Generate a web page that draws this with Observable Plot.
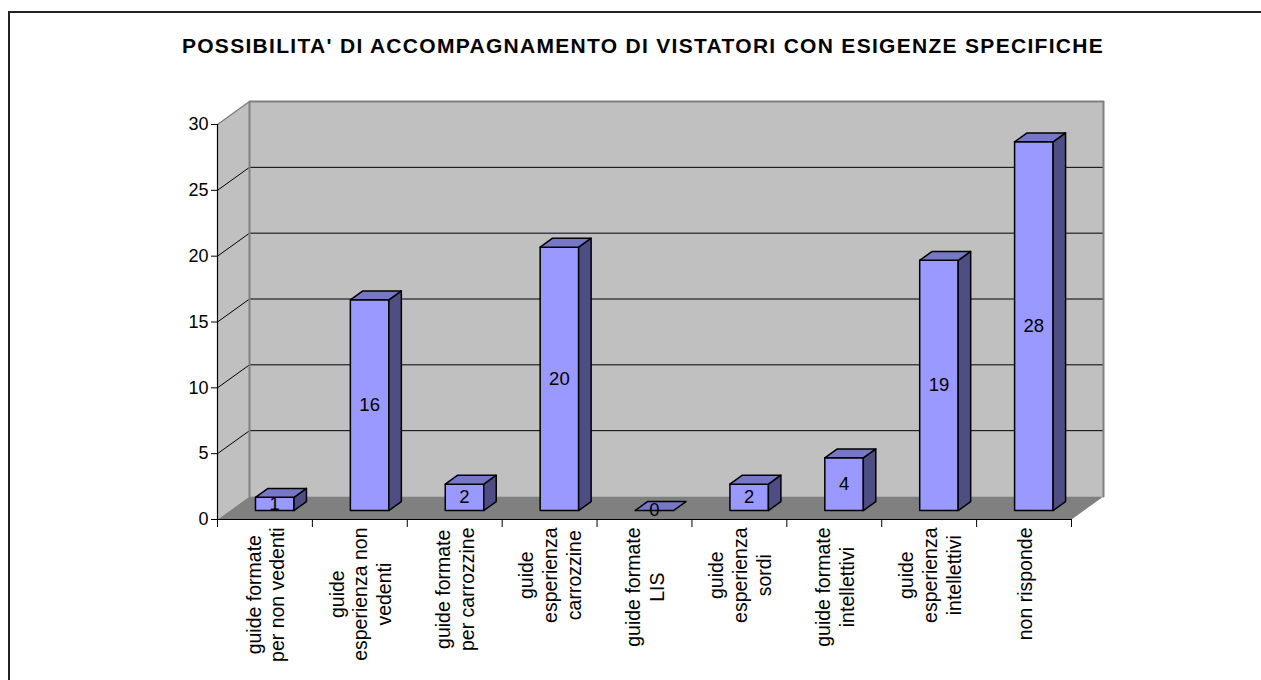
<!DOCTYPE html>
<html>
<head>
<meta charset="utf-8">
<script src="https://cdn.jsdelivr.net/npm/d3@7"></script>
<script src="https://cdn.jsdelivr.net/npm/@observablehq/plot@0.6"></script>
<style>
  html, body { margin: 0; padding: 0; background: #fff; overflow: hidden; }
  #wrap { position: relative; width: 1261px; height: 680px; overflow: hidden; }
  #frame { position: absolute; left: 8px; top: 11px; width: 1253px; height: 669px;
           border-left: 2px solid #222; border-top: 2px solid #222; box-sizing: border-box; }
  #title { position: absolute; left: 0; width: 1286px; top: 36px; text-align: center;
           font: bold 21px "Liberation Sans", Arial, sans-serif; letter-spacing: 1.3px;
           line-height: 20px; color: #000; white-space: nowrap; }
  #chart { position: absolute; left: 0; top: 0; }
</style>
</head>
<body>
<div id="wrap">
  <div id="frame"></div>
  <div id="title"></div>
  <div id="chart"></div>
</div>
<script>
// ---- data ----
const title = "POSSIBILITA' DI ACCOMPAGNAMENTO DI VISTATORI CON ESIGENZE SPECIFICHE";
const categories = [
  "guide formate\nper non vedenti",
  "guide\nesperienza non\nvedenti",
  "guide formate\nper carrozzine",
  "guide\nesperienza\ncarrozzine",
  "guide formate\nLIS",
  "guide\nesperienza\nsordi",
  "guide formate\nintellettivi",
  "guide\nesperienza\nintellettivi",
  "non risponde"
];
const values = [1, 16, 2, 20, 0, 2, 4, 19, 28];
const yTicks = [0, 5, 10, 15, 20, 25, 30];
const yMax = 30;

// ---- layout / style ----
const W = 1261, H = 680;
const mL = 217, mR = 190, mT = 124, mB = 161;
const n = categories.length;
const kx = (W - mL - mR) / n;        // px per category
const ky = (H - mT - mB) / yMax;     // px per unit
const Dx = 32 / kx, Dy = 23 / ky;    // full depth of the 3D box, in data units
const f0 = 0.39, f1 = 0.78;          // bar depth fractions
const barOff = 25.5 / kx, barW = 38.5 / kx;
const P = (x, y, f) => ({x: x + f * Dx, y: y + f * Dy});

document.getElementById("title").textContent = title;

// walls
const sideWall = [P(0,0,0), P(0,yMax,0), P(0,yMax,1), P(0,0,1)].map(p => ({...p, id: "side"}));
const backWall = [P(0,0,1), P(0,yMax,1), P(n,yMax,1), P(n,0,1)].map(p => ({...p, id: "back"}));
const floor = [P(0,0,0), P(n,0,0), P(n,0,1), P(0,0,1)].map(p => ({...p, id: "floor"}));
const gridVals = yTicks.filter(v => v > 0 && v < yMax);
const backGrid = gridVals.flatMap(v => [P(0,v,1), P(n,v,1)].map(p => ({...p, id: v})));
const sideGrid = gridVals.flatMap(v => [P(0,v,0), P(0,v,1)].map(p => ({...p, id: v})));
const sideTop = [P(0,yMax,0), P(0,yMax,1)];
const backEdge = [P(0,0,1), P(0,yMax,1), P(n,yMax,1), P(n,0,1)];

// bars
const fronts = [], tops = [], sides = [], labels = [];
values.forEach((v, i) => {
  const a = i + barOff, b = a + barW;
  if (v > 0) {
    [P(a,0,f0), P(a,v,f0), P(b,v,f0), P(b,0,f0)].forEach(p => fronts.push({...p, id: i}));
    [P(b,0,f0), P(b,v,f0), P(b,v,f1), P(b,0,f1)].forEach(p => sides.push({...p, id: i}));
  }
  [P(a,v,f0), P(b,v,f0), P(b,v,f1), P(a,v,f1)].forEach(p => tops.push({...p, id: i}));
  labels.push({...P((a + b) / 2, v / 2, f0), text: String(v)});
});

// category label lengths (for placing the rotated label blocks under the axis)
const catFont = 19.5;
const ctx = document.createElement("canvas").getContext("2d");
ctx.font = `${catFont}px "Liberation Sans"`;
const catMarks = categories.map((c, i) => {
  const len = d3.max(c.split("\n"), s => ctx.measureText(s).width);
  return Plot.text([c], {x: i + 0.5, y: 0, text: d => d, rotate: -90, textAnchor: "middle",
    dy: 8 + len / 2, fontSize: catFont, lineHeight: 1.22, fill: "#000"});
});

const poly = (data, fill, stroke, sw = 1) =>
  Plot.line(data, {x: "x", y: "y", z: "id", curve: "linear-closed", fill, stroke, strokeWidth: sw, strokeLinejoin: "round"});

const chart = Plot.plot({
  width: W, height: H,
  marginLeft: mL, marginRight: mR, marginTop: mT, marginBottom: mB,
  style: {fontFamily: '"Liberation Sans", Arial, sans-serif', fontSize: "18px", background: "transparent", overflow: "visible"},
  x: {type: "linear", domain: [0, n], axis: null},
  y: {domain: [0, yMax], ticks: yTicks, tickSize: 6, tickPadding: 3, label: null, tickFormat: d => String(d)},
  marks: [
    poly(sideWall, "#C0C0C0", "none"),
    poly(backWall, "#C0C0C0", "none"),
    Plot.line(backGrid, {x: "x", y: "y", z: "id", stroke: "#000", strokeWidth: 1}),
    Plot.line(sideGrid, {x: "x", y: "y", z: "id", stroke: "#000", strokeWidth: 1}),
    Plot.line(backEdge, {x: "x", y: "y", stroke: "#808080", strokeWidth: 2}),
    Plot.line(sideTop, {x: "x", y: "y", stroke: "#808080", strokeWidth: 1.5}),
    poly(floor, "#808080", "none"),
    Plot.ruleX([0], {y1: 0, y2: yMax, stroke: "#000", strokeWidth: 1.2}),
    Plot.ruleY([0], {x1: 0, x2: n, stroke: "#000", strokeWidth: 1.2}),
    Plot.ruleX(d3.range(n + 1), {x: d => d, y1: 0, y2: 0, insetBottom: -8, stroke: "#000", strokeWidth: 1}),
    poly(fronts, "#9999FF", "#000", 1.5),
    poly(sides, "#4E4E85", "#000", 1.5),
    poly(tops, "#7777C8", "#000", 1.5),
    Plot.text(labels, {x: "x", y: "y", text: "text", fontSize: 18.5, fill: "#000"}),
    ...catMarks
  ]
});
document.getElementById("chart").appendChild(chart);
</script>
</body>
</html>
